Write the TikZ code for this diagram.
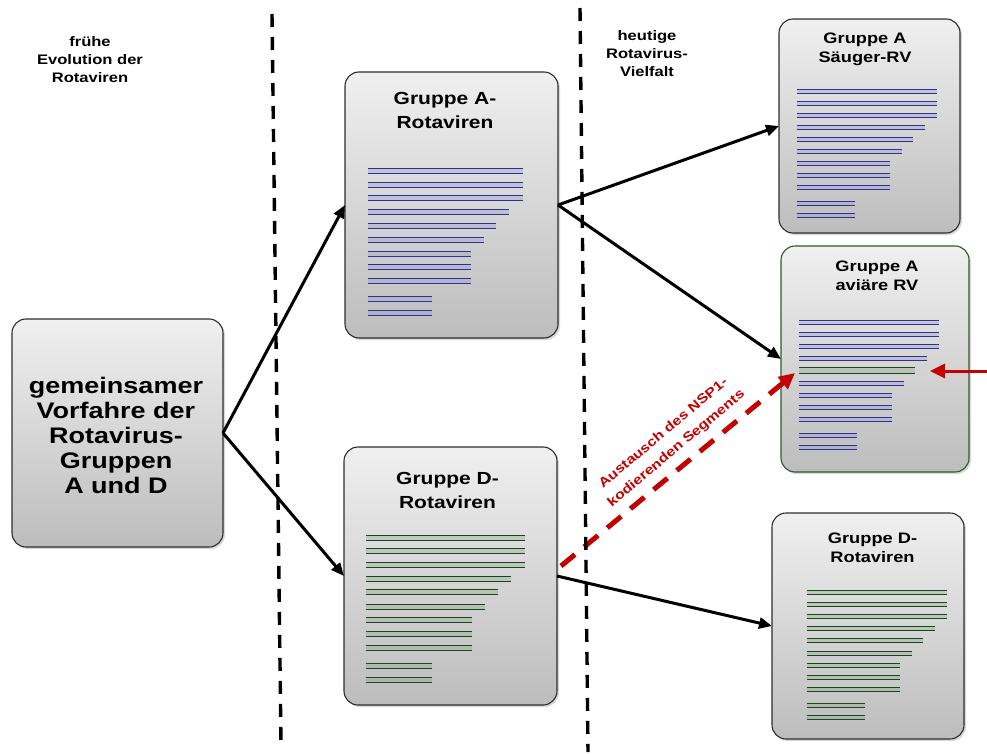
\documentclass[tikz,border=0pt]{standalone}
\usepackage{fontspec}
\setmainfont{Liberation Sans}[FakeStretch=1.2]
\usetikzlibrary{arrows.meta,shadows}

\definecolor{segblue}{RGB}{48,48,150}
\definecolor{seggreen}{RGB}{24,72,24}
\definecolor{boxline}{RGB}{45,45,45}
\definecolor{avline}{RGB}{45,90,45}
\definecolor{swapred}{RGB}{196,0,0}

% genome segments: x0, y0, x-scale, y-scale, colour, list of offset/length, strand gap
\newcommand\genome[7]{%
  \foreach \dy/\len in #6 {%
    \pgfmathsetmacro\yc{round(#2+#4*\dy)-1.5}
    \draw[segband,#5!50] ({#1},{\yc+#7/2}) -- ++({#3*\len},0);
    \draw[segline,#5] ({#1},{\yc}) -- ++({#3*\len},0);
    \draw[segline,#5] ({#1},{\yc+#7}) -- ++({#3*\len},0);
  }}
\def\fullrows{0/140,12/140,24/140,36/128,48/116,60.5/105,72.5/93,84.5/93,96.5/93,112.5/58,124.5/58}
\def\avianrows{0/140,12/140,24/140,36/128,60.5/105,72.5/93,84.5/93,96.5/93,112.5/58,124.5/58}

\tikzset{
  virusbox/.style={draw=boxline, line width=1.1pt, rounded corners=14pt,
    top color=black!6, bottom color=black!26, inner sep=0pt, outer sep=0pt,
    drop shadow={opacity=0.3, shadow xshift=2pt, shadow yshift=-2pt}},
  bigtitle/.style={align=center, font=\bfseries\fontsize{17.5}{24}\selectfont},
  smalltitle/.style={align=center, font=\bfseries\fontsize{15.2}{19}\selectfont},
  roottitle/.style={align=center, font=\bfseries\fontsize{22.5}{25}\selectfont},
  phase/.style={align=center, font=\bfseries\fontsize{13.8}{18}\selectfont},
  segline/.style={line width=1.8pt},
  segband/.style={line width=5pt, opacity=0.35},
  sepline/.style={line width=3.4pt, dash pattern=on 13pt off 10pt},
  lineage/.style={line width=3pt, -{Triangle[length=13pt,width=11pt]}},
  swap/.style={swapred, line width=5pt, dash pattern=on 18pt off 12pt,
    -{Triangle[length=16pt,width=15pt]}},
  swaplabel/.style={swapred, align=center, rotate=40,
    font=\bfseries\fontsize{13.2}{20}\selectfont}
}

\begin{document}
\begin{tikzpicture}[x=1pt,y=-1pt]
\useasboundingbox (0,0) rectangle (987,754);

% boxes
\node[virusbox, minimum width=211pt, minimum height=228pt] (root) at (117.5,433) {};
\node[virusbox, minimum width=213pt, minimum height=266pt] (boxA) at (451.5,205) {};
\node[virusbox, minimum width=213pt, minimum height=258pt] (boxD) at (450.5,576) {};
\node[virusbox, minimum width=181pt, minimum height=214pt] (sauger) at (869.5,126) {};
\node[virusbox, draw=avline, minimum width=188pt, minimum height=226pt] (aviare) at (875,359) {};
\node[virusbox, minimum width=192pt, minimum height=226pt] (drechts) at (868,626) {};

% titles
\node[roottitle] (rootT) at (116,435) {gemeinsamer\\Vorfahre der\\Rotavirus-\\Gruppen\\A und D};
\node[bigtitle] (boxAT) at (445,110.5) {Gruppe A-\\Rotaviren};
\node[bigtitle] (boxDT) at (447.5,490) {Gruppe D-\\Rotaviren};
\node[smalltitle] (saugerT) at (865,49.5) {Gruppe A\\Säuger-RV};
\node[smalltitle] (aviareT) at (877,275.5) {Gruppe A\\aviäre RV};
\node[smalltitle] (drechtsT) at (872.5,547.5) {Gruppe D-\\Rotaviren};
\node[phase] (early) at (90,60) {frühe\\Evolution der\\Rotaviren};
\node[phase] (today) at (647,54) {heutige\\Rotavirus-\\Vielfalt};

% genome segments
\genome{368}{170}{1.105}{1.14}{segblue}{\fullrows}{5}
\genome{366}{536.7}{1.135}{1.14}{seggreen}{\fullrows}{5}
\genome{796.7}{90.5}{1}{1}{segblue}{\fullrows}{4}
\genome{799}{322.2}{1}{1}{segblue}{\avianrows}{4}
\genome{806.7}{592.3}{1.005}{1}{seggreen}{\fullrows}{4}
\draw[segband,seggreen!50] (799,370.5) -- ++(116,0);
\draw[segline,seggreen] (799,367.5) -- ++(116,0);
\draw[segline,seggreen] (799,373.5) -- ++(116,0);

% segment exchange
\coordinate (swapS) at (561,566);
\coordinate (swapE) at (795,373);
\draw[swap] (swapS) -- (swapE);
\node[swaplabel] (swapT) at (670,441) {Austausch des NSP1-\\kodierenden Segments};
\coordinate (markS) at (987,371);
\coordinate (markE) at (930,371);
\draw[swapred, line width=3pt, -{Triangle[length=15pt,width=14pt]}] (markS) -- (markE);

% period separators
\coordinate (sepAtop) at (272,14);
\coordinate (sepAbot) at (281,745);
\coordinate (sepBtop) at (580,8);
\coordinate (sepBbot) at (588,752);
\draw[sepline] (sepAtop) -- (sepAbot);
\draw[sepline] (sepBtop) -- (sepBbot);

% lineages
\draw[lineage] (root.east) -- (boxA.west);
\draw[lineage] (root.east) -- (boxD.west);
\draw[lineage] (boxA.east) -- (sauger.west);
\draw[lineage] (boxA.east) -- (aviare.west);
\draw[lineage] (boxD.east) -- (drechts.west);
\end{tikzpicture}
\end{document}
